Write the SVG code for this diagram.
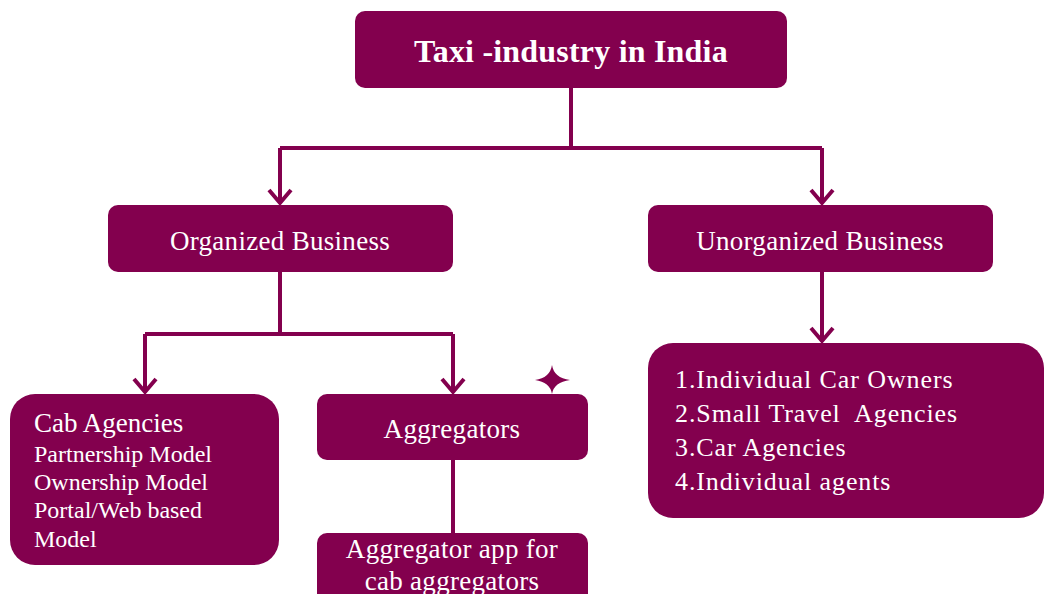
<svg xmlns="http://www.w3.org/2000/svg" width="1045" height="594" viewBox="0 0 1045 594">
<style>
.box{fill:#83004E}
.t{fill:#ffffff;font-family:"Liberation Serif","Times New Roman",serif}
.title{font-size:32px;font-weight:bold;text-anchor:middle;letter-spacing:0.2px}
.lbl{font-size:27px;text-anchor:middle;letter-spacing:0.3px}
.big{font-size:27px}
.sub{font-size:24px}
.list{font-size:26px;letter-spacing:0.9px}
.conn{fill:none;stroke:#83004E;stroke-width:4}
</style>
<defs>
<marker id="arr" markerUnits="userSpaceOnUse" markerWidth="30" markerHeight="30" viewBox="-16 -15 20 30" refX="0" refY="0" orient="auto">
<path d="M-13,-11 L0,0 L-13,11" fill="none" stroke="#83004E" stroke-width="4" stroke-linejoin="miter"/>
</marker>
</defs>
<g id="connectors">
<path class="conn" d="M571,88 V148"/>
<path class="conn" d="M280,148 H822"/>
<path class="conn" d="M280,148 V203" marker-end="url(#arr)"/>
<path class="conn" d="M822,148 V203" marker-end="url(#arr)"/>
<path class="conn" d="M280,272 V334"/>
<path class="conn" d="M145,334 H453"/>
<path class="conn" d="M145,334 V392" marker-end="url(#arr)"/>
<path class="conn" d="M453,334 V392" marker-end="url(#arr)"/>
<path class="conn" d="M822,272 V341" marker-end="url(#arr)"/>
<path class="conn" d="M453,460 V533"/>
</g>
<g id="title">
<rect class="box" x="355" y="11" width="432" height="77" rx="10"/>
<text class="t title" x="571" y="62">Taxi -industry in India</text>
</g>
<g id="organized">
<rect class="box" x="108" y="205" width="345" height="67" rx="10"/>
<text class="t lbl" x="280" y="250">Organized Business</text>
</g>
<g id="unorganized">
<rect class="box" x="648" y="205" width="345" height="67" rx="10"/>
<text class="t lbl" x="820" y="250">Unorganized Business</text>
</g>
<g id="cab">
<rect class="box" x="10" y="394" width="269" height="171" rx="25"/>
<text class="t big" x="34" y="432">Cab Agencies</text>
<text class="t sub" x="34" y="462">Partnership Model</text>
<text class="t sub" x="34" y="490">Ownership Model</text>
<text class="t sub" x="34" y="518">Portal/Web based</text>
<text class="t sub" x="34" y="547">Model</text>
</g>
<g id="aggregators">
<rect class="box" x="317" y="394" width="271" height="66" rx="10"/>
<text class="t lbl" x="452" y="438">Aggregators</text>
</g>
<g id="sparkle">
<path class="box" d="M552,365 Q554,378 570,380 Q554,382 552,394 Q550,382 535,380 Q550,378 552,365 Z"/>
</g>
<g id="app">
<rect class="box" x="317" y="533" width="271" height="80" rx="10"/>
<text class="t lbl" x="452" y="558">Aggregator app for</text>
<text class="t lbl" x="452" y="590">cab aggregators</text>
</g>
<g id="list">
<rect class="box" x="648" y="343" width="396" height="175" rx="25"/>
<text class="t list" x="675" y="388">1.Individual Car Owners</text>
<text class="t list" x="675" y="422">2.Small Travel&#160; Agencies</text>
<text class="t list" x="675" y="456">3.Car Agencies</text>
<text class="t list" x="675" y="490">4.Individual agents</text>
</g>
</svg>
